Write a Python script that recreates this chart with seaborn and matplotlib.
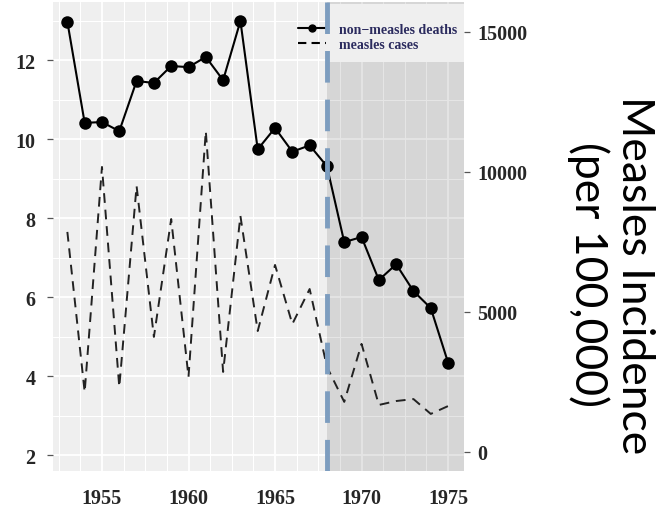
import matplotlib
matplotlib.use("Agg")
import matplotlib.pyplot as plt
from matplotlib.lines import Line2D
from matplotlib.patches import Rectangle
from matplotlib.ticker import MultipleLocator, FixedLocator
from matplotlib.font_manager import FontProperties
import pandas as pd
import seaborn as sns

# Annual series, 1953-1975
years = list(range(1953, 1976))
non_measles_deaths = [12.97, 10.41, 10.43, 10.20, 11.47, 11.42, 11.85, 11.82,
                      12.08, 11.49, 12.99, 9.74, 10.28, 9.68, 9.84, 9.31,
                      7.39, 7.52, 6.43, 6.83, 6.15, 5.72, 4.34]
measles_cases = [7860, 2140, 10180, 2320, 9500, 4110, 8320, 2680,
                 11460, 2860, 8430, 4320, 6680, 4570, 5820, 3040,
                 1790, 3860, 1680, 1820, 1890, 1360, 1640]
vaccine_year = 1968
x_ticks = [1955, 1960, 1965, 1970, 1975]
left_ticks = [2, 4, 6, 8, 10, 12]
right_ticks = [0, 5000, 10000, 15000]
series_labels = ["non\u2212measles deaths", "measles cases"]
right_label = "Measles Incidence\n(per 100,000)"

df = pd.DataFrame({"year": years, "deaths": non_measles_deaths,
                   "cases": measles_cases})

sns.set_style("white")
tick_font = {"family": "Liberation Serif", "weight": "bold", "size": 14.5}

fig = plt.figure(figsize=(6.61, 5.10), dpi=100)
ax = fig.add_axes([53 / 661, 1 - 472 / 510, (464 - 53) / 661, (472 - 3) / 510])
ax.set_facecolor("#EFEFEF")
ax.set_xlim(1952.17, 1975.92)
ax.set_ylim(1.595, 13.47)

# grid
ax.set_axisbelow(True)
ax.xaxis.set_major_locator(FixedLocator(x_ticks))
ax.xaxis.set_minor_locator(MultipleLocator(1.25))
ax.yaxis.set_major_locator(FixedLocator(left_ticks))
ax.yaxis.set_minor_locator(MultipleLocator(1))
ax.grid(which="major", color="white", linewidth=1.3)
ax.grid(which="minor", color="white", linewidth=0.8)
for s in ax.spines.values():
    s.set_visible(False)

# post-vaccine period shading
ax.axvspan(vaccine_year, 1977, color="black", alpha=0.1, lw=0, zorder=1)

sns.lineplot(data=df, x="year", y="deaths", ax=ax, color="black",
             marker="o", markersize=9, markeredgewidth=0, linewidth=1.5,
             zorder=4, legend=False)

ax2 = ax.twinx()
ax2.set_ylim(-679, 16071)
ax2.yaxis.set_major_locator(FixedLocator(right_ticks))
for s in ax2.spines.values():
    s.set_visible(False)
ax2.grid(False)

sns.lineplot(data=df, x="year", y="cases", ax=ax2, color="#222222",
             linewidth=1.4, dashes=False, zorder=3, legend=False)
ax2.lines[-1].set_dashes([5, 3.5])

# legend backdrop over the shaded period
ax2.add_patch(Rectangle(((327 - 53) / 411, 1 - (63 - 3) / 469),
                        1 - (327 - 53) / 411, (63 - 5) / 469,
                        transform=ax2.transAxes, facecolor="#EFEFEF",
                        edgecolor="none", zorder=4.5))

ax2.axvline(vaccine_year, color="#7D9DBF", linewidth=3.5,
            dashes=(6.5, 3.5), zorder=6)

for a in (ax, ax2):
    a.set_xlabel("")
    a.set_ylabel("")
    a.tick_params(axis="both", which="major", length=4.5, width=0.9,
                  color="#555555", pad=5)
    a.tick_params(axis="both", which="minor", length=0)
    for lab in a.get_xticklabels() + a.get_yticklabels():
        lab.set_fontproperties(FontProperties(**tick_font))
ax.tick_params(axis="x", pad=8)
ax.tick_params(axis="y", pad=8)

handles = [
    Line2D([], [], color="black", lw=1.5, marker="o", markersize=5),
    Line2D([], [], color="black", lw=1.5, dashes=(4, 2.5)),
]
leg = ax2.legend(handles, series_labels, loc="upper right",
                 bbox_to_anchor=((461 - 53) / 411, 1 - (20 - 3) / 469),
                 borderaxespad=0.0, frameon=False, handlelength=2.0,
                 handletextpad=0.9, labelspacing=0.1, borderpad=0.3,
                 prop={"family": "Liberation Serif", "weight": "bold",
                       "size": 10})
leg.set_zorder(5)
for t in leg.get_texts():
    t.set_color("#2b2b5e")

fig.text(611 / 661, 1 - 275 / 510, right_label, rotation=270,
         ha="center", va="center", multialignment="center",
         fontfamily="Lato", fontsize=32, color="black", linespacing=1.1)

fig.savefig("out.png", dpi=100)
